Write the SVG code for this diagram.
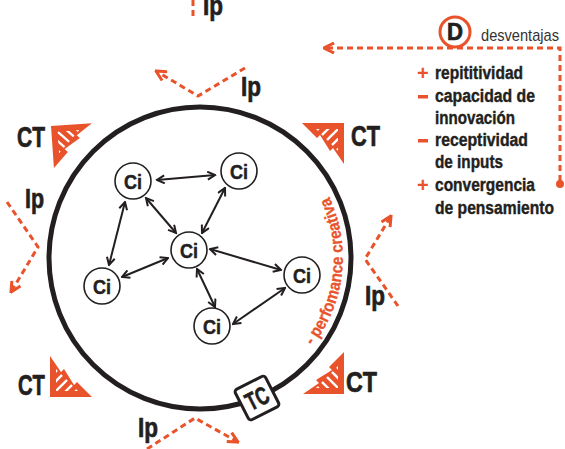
<svg xmlns="http://www.w3.org/2000/svg" width="565" height="449" viewBox="0 0 565 449">
<style>
.lbl{font-family:"Liberation Sans",Arial,sans-serif;font-weight:bold;fill:#231f20;stroke:#231f20;stroke-width:0.7}
.ora{stroke:#e9532b;fill:none;stroke-width:3;stroke-dasharray:6 4}
.ci circle{fill:#fff;stroke:#231f20;stroke-width:1.6}
.ci text{font-family:"Liberation Sans",Arial,sans-serif;font-weight:bold;font-size:21px;fill:#231f20;stroke:#231f20;stroke-width:0.5;text-anchor:middle}
.link{stroke:#231f20;stroke-width:2;fill:none}
.item{font-family:"Liberation Sans",Arial,sans-serif;font-weight:bold;font-size:18px;fill:#231f20;stroke:#231f20;stroke-width:0.4}
.sign{font-family:"Liberation Sans",Arial,sans-serif;font-weight:bold;font-size:20px;fill:#e9532b}
</style>
<defs>
<marker id="ah" viewBox="0 0 10 10" refX="8.5" refY="5" markerWidth="5" markerHeight="5" orient="auto-start-reverse">
<path d="M1,1 L8.5,5 L1,9" fill="none" stroke="#231f20" stroke-width="2"/>
</marker>
<marker id="oa" viewBox="0 0 10 10" refX="9" refY="5" markerWidth="4.2" markerHeight="4.2" markerUnits="strokeWidth" orient="auto">
<path d="M1,1 L9,5 L1,9" fill="none" stroke="#e9532b" stroke-width="2.4" stroke-dasharray="none"/>
</marker>
<clipPath id="hc"><path d="M6,6 L28,6 L6,28 Z"/></clipPath>
<g id="ctshape">
<path d="M0,0 L41,0 L25,11 L28,14 L12,24 L15,27 L0,42 Z" fill="#e9532b"/>
<g clip-path="url(#hc)" stroke="#fff" stroke-width="2.3">
<line x1="-10" y1="-10" x2="40" y2="40"/>
<line x1="-5" y1="-15" x2="45" y2="35"/>
<line x1="0" y1="-20" x2="50" y2="30"/>
<line x1="5" y1="-25" x2="55" y2="25"/>
<line x1="-15" y1="-5" x2="35" y2="45"/>
<line x1="-20" y1="0" x2="30" y2="50"/>
<line x1="-25" y1="5" x2="25" y2="55"/>
</g>
</g>
</defs>

<g id="main-circle">
<circle cx="200" cy="258" r="151" fill="none" stroke="#231f20" stroke-width="5"/>
<path id="arcp" d="M312.4,346.0 A143,143 0 0 0 321.3,182.2" fill="none"/>
<text font-family="Liberation Sans,Arial,sans-serif" font-weight="bold" font-size="17" fill="#e9532b" stroke="#e9532b" stroke-width="0.3"><textPath href="#arcp" textLength="158" lengthAdjust="spacingAndGlyphs">- perfomance creativa</textPath></text>
</g>

<g id="ct-tl"><use href="#ctshape" transform="translate(51,126) rotate(-4)"/><text class="lbl" x="17" y="147" font-size="29" textLength="28" lengthAdjust="spacingAndGlyphs">CT</text></g>
<g id="ct-tr"><use href="#ctshape" transform="translate(344,123) rotate(90)"/><text class="lbl" x="351" y="146" font-size="29" textLength="29" lengthAdjust="spacingAndGlyphs">CT</text></g>
<g id="ct-bl"><use href="#ctshape" transform="translate(50,397) rotate(-90)"/><text class="lbl" x="18" y="395" font-size="29" textLength="27" lengthAdjust="spacingAndGlyphs">CT</text></g>
<g id="ct-br"><use href="#ctshape" transform="translate(344,394) rotate(180)"/><text class="lbl" x="346" y="392" font-size="29" textLength="31" lengthAdjust="spacingAndGlyphs">CT</text></g>

<g id="ip-top0"><line class="ora" x1="193" y1="0" x2="193" y2="18"/><text class="lbl" x="203" y="15" font-size="27" textLength="20" lengthAdjust="spacingAndGlyphs">Ip</text></g>
<g id="ip-top"><polyline class="ora" points="245,68 198,96 156,71" marker-end="url(#oa)"/><text class="lbl" x="241" y="96" font-size="27" textLength="20" lengthAdjust="spacingAndGlyphs">Ip</text></g>
<g id="ip-left"><polyline class="ora" points="7,202 38,247 11,292" marker-end="url(#oa)"/><text class="lbl" x="25" y="208" font-size="27" textLength="19" lengthAdjust="spacingAndGlyphs">Ip</text></g>
<g id="ip-right"><polyline class="ora" points="398,306 365,259 391,216" marker-end="url(#oa)"/><text class="lbl" x="365" y="305" font-size="27" textLength="20" lengthAdjust="spacingAndGlyphs">Ip</text></g>
<g id="ip-bottom"><polyline class="ora" points="147,449 195,418 238,442" marker-end="url(#oa)"/><text class="lbl" x="138" y="437" font-size="27" textLength="20" lengthAdjust="spacingAndGlyphs">Ip</text></g>

<g id="connectors">
<line class="link" x1="157" y1="180" x2="215" y2="175" marker-start="url(#ah)" marker-end="url(#ah)"/>
<line class="link" x1="146" y1="198" x2="176" y2="233" marker-start="url(#ah)" marker-end="url(#ah)"/>
<line class="link" x1="225" y1="188" x2="202" y2="233" marker-start="url(#ah)" marker-end="url(#ah)"/>
<line class="link" x1="125" y1="202" x2="109" y2="265" marker-start="url(#ah)" marker-end="url(#ah)"/>
<line class="link" x1="122" y1="277" x2="168" y2="258" marker-start="url(#ah)" marker-end="url(#ah)"/>
<line class="link" x1="210" y1="249" x2="281" y2="270" marker-start="url(#ah)" marker-end="url(#ah)"/>
<line class="link" x1="197" y1="269" x2="215" y2="307" marker-start="url(#ah)" marker-end="url(#ah)"/>
<line class="link" x1="233" y1="324" x2="285" y2="288" marker-start="url(#ah)" marker-end="url(#ah)"/>
</g>

<g id="ci1" class="ci"><circle cx="133" cy="181" r="18"/><text x="133" y="188.5" textLength="18" lengthAdjust="spacingAndGlyphs">Ci</text></g>
<g id="ci2" class="ci"><circle cx="239" cy="171" r="18"/><text x="239" y="178.5" textLength="18" lengthAdjust="spacingAndGlyphs">Ci</text></g>
<g id="ci3" class="ci"><circle cx="189" cy="250" r="18"/><text x="189" y="257.5" textLength="18" lengthAdjust="spacingAndGlyphs">Ci</text></g>
<g id="ci4" class="ci"><circle cx="102" cy="286" r="18"/><text x="102" y="293.5" textLength="18" lengthAdjust="spacingAndGlyphs">Ci</text></g>
<g id="ci5" class="ci"><circle cx="302" cy="275" r="18"/><text x="302" y="282.5" textLength="18" lengthAdjust="spacingAndGlyphs">Ci</text></g>
<g id="ci6" class="ci"><circle cx="212" cy="326" r="18"/><text x="212" y="333.5" textLength="18" lengthAdjust="spacingAndGlyphs">Ci</text></g>

<g id="tc" transform="translate(257,398) rotate(-27)">
<rect x="-17" y="-17" width="34" height="34" rx="3" fill="#fff" stroke="#231f20" stroke-width="3"/>
<text class="lbl" x="0" y="9" font-size="25" text-anchor="middle" textLength="23" lengthAdjust="spacingAndGlyphs">TC</text>
</g>

<g id="desventajas">
<polyline class="ora" points="560,181 560,48 324,48" marker-end="url(#oa)"/>
<circle cx="560" cy="184" r="4" fill="#e9532b"/>
<circle cx="455" cy="32" r="15" fill="#fff" stroke="#e9532b" stroke-width="3"/>
<text class="lbl" x="455" y="40" font-size="23" text-anchor="middle" textLength="16" lengthAdjust="spacingAndGlyphs">D</text>
<text x="481" y="41" font-family="Liberation Sans,Arial,sans-serif" font-size="17" fill="#333" textLength="78" lengthAdjust="spacingAndGlyphs">desventajas</text>
<text class="sign" x="417" y="80">+</text>
<text class="item" x="435" y="79" textLength="88" lengthAdjust="spacingAndGlyphs">repititividad</text>
<rect x="418" y="95" width="10" height="3.5" fill="#e9532b"/>
<text class="item" x="435" y="102" textLength="100" lengthAdjust="spacingAndGlyphs">capacidad de</text>
<text class="item" x="435" y="124" textLength="80" lengthAdjust="spacingAndGlyphs">innovación</text>
<rect x="418" y="139" width="10" height="3.5" fill="#e9532b"/>
<text class="item" x="435" y="146" textLength="93" lengthAdjust="spacingAndGlyphs">receptividad</text>
<text class="item" x="435" y="168" textLength="68" lengthAdjust="spacingAndGlyphs">de inputs</text>
<text class="sign" x="417" y="192">+</text>
<text class="item" x="435" y="191" textLength="100" lengthAdjust="spacingAndGlyphs">convergencia</text>
<text class="item" x="435" y="214" textLength="119" lengthAdjust="spacingAndGlyphs">de pensamiento</text>
</g>
</svg>
